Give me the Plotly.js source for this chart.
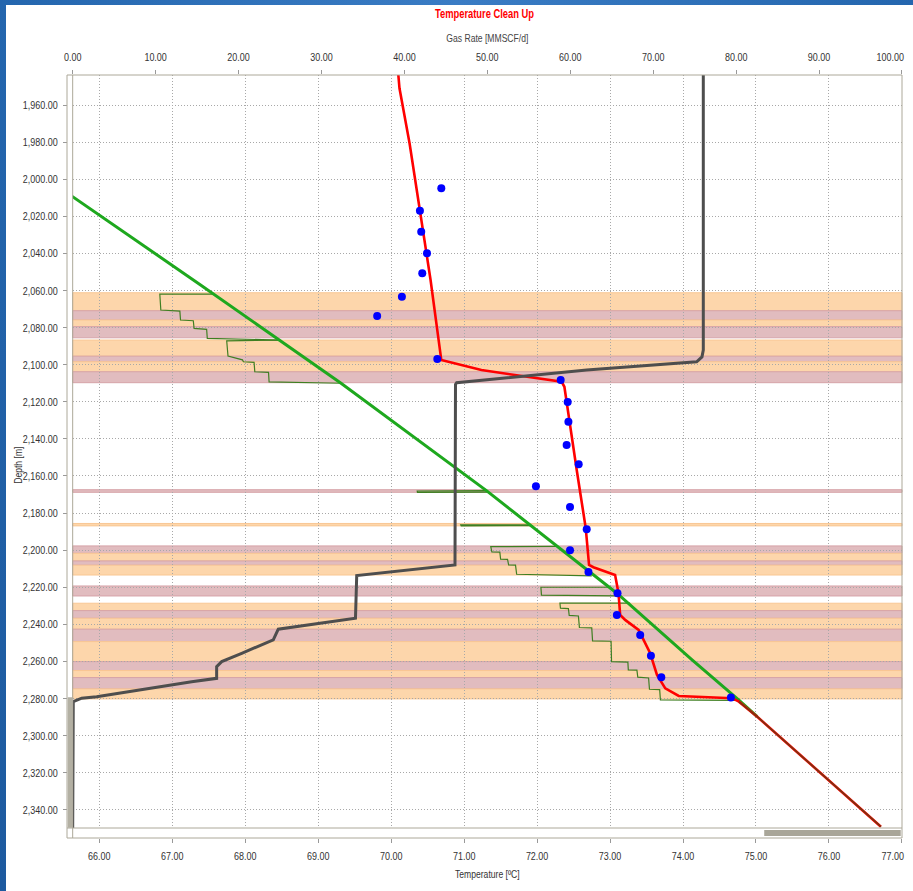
<!DOCTYPE html>
<html>
<head>
<meta charset="utf-8">
<script src="https://cdn.plot.ly/plotly-3.0.1.min.js"></script>
<style>
  html, body { margin:0; padding:0; background:#ffffff; overflow:hidden; }
  #leftbar { position:absolute; left:0; top:0; width:6px; height:891px; background:linear-gradient(#2466ae,#1d5a9f); }
  #topbar { position:absolute; left:0; top:0; width:913px; height:5px; background:linear-gradient(90deg,#2466ae,#3a7cc4,#2466ae); }
  #chart { position:absolute; left:0; top:0; width:913px; height:891px; }
</style>
</head>
<body>
<div id="leftbar"></div>
<div id="topbar"></div>
<div id="chart"></div>
<script>
// ---- Data ----
// Formation bands: top depth, bottom depth, kind (O = orange zone, P = pink zone)
var bandTop    = [2061.2, 2070.9, 2075.9, 2079.5, 2086.7, 2095.4, 2098.4, 2103.8, 2167.4, 2185.6, 2197.7, 2201.7, 2205.8, 2208.1, 2219.3, 2228.6, 2232.6, 2236.7, 2242.6, 2249.3, 2260.1, 2264.9, 2268.7, 2274.8];
var bandBottom = [2070.9, 2075.9, 2079.5, 2085.5, 2095.4, 2098.4, 2103.8, 2109.7, 2168.8, 2186.9, 2201.7, 2205.8, 2208.1, 2213.4, 2224.7, 2232.6, 2236.7, 2242.6, 2249.3, 2260.1, 2264.9, 2268.7, 2274.8, 2280.2];
var bandKind   = ['O','P','O','P','O','P','O','P','P','O','P','O','P','O','P','O','P','O','P','O','P','O','P','O'];

// Geothermal gradient (green)
var geoT = [65.60, 67.388, 69.313, 71.306, 73.093, 74.124, 74.766, 75.017];
var geoD = [2008.5, 2057.0, 2110.0, 2167.9, 2223.2, 2259.2, 2280.8, 2289.8];

// Step (contribution) outlines per zone (dark green); null separates zones
var stepT = [67.549, 66.829, 66.843, 67.104, 67.113, 67.288, 67.299, 67.471, 67.480, 68.465, null,
             68.465, 67.746, 67.764, 67.962, 67.975, 68.121, 68.131, 68.319, 68.327, 69.313, null,
             71.306, 70.357, 70.360, 71.330, null,
             71.920, 70.953, 70.960, 71.940, null,
             72.291, 71.365, 71.380, 71.489, 71.500, 71.595, 71.610, 71.704, 71.720, 72.750, null,
             72.980, 72.052, 72.060, 73.100, null,
             73.275, 72.313, 72.320, 72.429, 72.440, 72.566, 72.580, 72.749, 72.760, 73.014, 73.020, 73.244, 73.250, 73.368, 73.380, 73.528, 73.540, 73.680, 73.690, 74.720];
var stepD = [2061.9, 2061.9, 2070.5, 2071.1, 2075.9, 2076.3, 2080.4, 2080.9, 2085.8, 2086.7, null,
             2086.7, 2087.2, 2095.3, 2097.4, 2098.4, 2098.7, 2103.8, 2104.1, 2109.3, 2110.0, null,
             2167.9, 2168.1, 2168.8, 2168.7, null,
             2186.4, 2186.3, 2186.9, 2186.8, null,
             2197.9, 2198.1, 2201.0, 2201.1, 2204.9, 2205.0, 2208.0, 2208.1, 2213.0, 2213.9, null,
             2220.0, 2220.0, 2224.2, 2224.6, null,
             2228.6, 2228.6, 2231.3, 2231.5, 2235.2, 2235.5, 2241.7, 2241.9, 2248.9, 2249.1, 2260.1, 2260.4, 2264.5, 2264.7, 2268.5, 2268.9, 2275.0, 2275.2, 2280.7, 2281.0];

// Simulated temperature (red)
var simT = [70.09, 70.114, 70.252, 70.540, 70.687, 71.237, 72.337, 72.374, 72.543, 72.667, 72.712, 72.772, 73.069, 73.116, 73.138, 73.207, 73.391, 73.460, 73.550, 73.643, 73.757, 73.941, 74.444, 74.674, 74.766, 75.017, 76.712];
var simD = [1940.0, 1951.0, 1980.6, 2054.3, 2097.5, 2102.9, 2109.2, 2111.9, 2156.8, 2188.2, 2208.0, 2209.2, 2213.4, 2223.2, 2234.9, 2237.6, 2243.0, 2248.4, 2255.6, 2267.3, 2274.5, 2278.6, 2279.3, 2279.8, 2281.7, 2289.8, 2349.1];

// Below-perforation common trend (brown overlay)
var deepT = [74.766, 75.017, 76.712];
var deepD = [2281.7, 2289.8, 2349.1];

// Measured temperature (blue points)
var measT = [70.687, 70.394, 70.412, 70.491, 70.426, 70.147, 69.808, 70.632, 72.323, 72.419, 72.429, 72.405, 72.570, 71.984, 72.451, 72.680, 72.451, 72.704, 73.102, 73.093, 73.413, 73.560, 73.702, 74.656];
var measD = [2004.9, 2017.0, 2028.3, 2039.9, 2050.7, 2063.3, 2073.7, 2096.9, 2108.2, 2120.1, 2130.7, 2143.3, 2153.7, 2165.6, 2176.7, 2188.7, 2200.1, 2211.8, 2223.2, 2234.9, 2245.7, 2256.9, 2268.5, 2279.5];

// Gas rate profile (gray, top axis)
var gasRate = [76.04, 76.04, 75.88, 75.24, 61.98, 46.30, 46.16, 46.10, 34.25, 34.10, 24.79, 24.19, 20.38, 17.97, 17.36, 17.36, 14.35, 2.89, 1.09, 0.07, 0.0];
var gasD    = [1940.0, 2092.1, 2095.8, 2098.4, 2102.9, 2109.7, 2110.6, 2208.0, 2213.7, 2236.7, 2242.6, 2248.4, 2255.6, 2260.1, 2262.8, 2269.1, 2270.9, 2279.0, 2279.8, 2281.7, 2352.0];

// Axes
var tempRange = [65.635, 77.001];
var depthRange = [2349.8, 1943.8];
var gasRange = [0, 100];

// ---- Chart ----
var FONT = '"Liberation Sans", Arial, sans-serif';
var frameColor = '#aca899';

var shapes = [];
bandTop.forEach(function (t, i) {
  var isO = bandKind[i] === 'O';
  shapes.push({
    type: 'rect', layer: 'below', xref: 'x domain', yref: 'y',
    x0: 0, x1: 1, y0: t, y1: bandBottom[i],
    fillcolor: isO ? '#fdd6ab' : '#e1bcbf',
    line: { color: isO ? '#f9c794' : '#d6a3a8', width: 1 }
  });
});
// frame & scroll bars (paper coordinates)
shapes.push({ type: 'rect', xref: 'paper', yref: 'paper', x0: 0, x1: 1, y0: 0, y1: 1, line: { color: frameColor, width: 1 }, layer: 'above' });
shapes.push({ type: 'line', xref: 'paper', yref: 'paper', x0: 0.0068, x1: 0.0068, y0: 0, y1: 1, line: { color: frameColor, width: 1 }, layer: 'above' });
shapes.push({ type: 'line', xref: 'paper', yref: 'paper', x0: 0, x1: 1, y0: 0.0131, y1: 0.0131, line: { color: frameColor, width: 1 }, layer: 'above' });
shapes.push({ type: 'rect', xref: 'paper', yref: 'paper', x0: 0.0008, x1: 0.0062, y0: 0.0135, y1: 0.1844, fillcolor: '#b3b0a3', line: { width: 0 }, layer: 'below' });
shapes.push({ type: 'rect', xref: 'paper', yref: 'paper', x0: 0.835, x1: 0.9985, y0: 0.0026, y1: 0.0105, fillcolor: '#a9a699', line: { width: 0 }, layer: 'above' });

var traces = [
  { x: stepT, y: stepD, mode: 'lines', line: { color: '#3f7f22', width: 1.2 }, hoverinfo: 'skip', connectgaps: false },
  { x: geoT, y: geoD, mode: 'lines', line: { color: '#1ea81e', width: 3 } },
  { x: simT, y: simD, mode: 'lines', line: { color: '#ff0000', width: 2.6 } },
  { x: deepT, y: deepD, mode: 'lines', line: { color: '#7a3410', width: 1.6 } },
  { x: gasRate, y: gasD, xaxis: 'x2', yaxis: 'y', mode: 'lines', line: { color: '#4e4e4e', width: 3 } },
  { x: measT, y: measD, mode: 'markers', marker: { color: '#0000ff', size: 8, line: { width: 0 } } }
];

var tickFont = { family: FONT, size: 11.5, color: '#333333' };
var gridDash = '1px,2px';
var layout = {
  width: 913, height: 891,
  margin: { l: 67, r: 11, t: 75, b: 53 },
  paper_bgcolor: 'rgba(0,0,0,0)',
  plot_bgcolor: '#ffffff',
  showlegend: false,
  title: { text: 'Temperature Clean Up', font: { family: FONT, size: 12, color: '#ff0000', weight: 'bold' },
           x: 0.5, xref: 'paper', xanchor: 'center', y: 1 - 14 / 891, yref: 'container', yanchor: 'middle' },
  xaxis: {
    domain: [0.0068, 1], anchor: 'free', position: 0,
    range: tempRange, dtick: 1, tick0: 66, tickformat: '.2f',
    showgrid: true, gridcolor: '#a8a8a8', griddash: gridDash, gridwidth: 1, zeroline: false,
    showline: false, ticks: 'outside', ticklen: 4, tickcolor: '#999', ticklabelstandoff: 3,
    ticklabeloverflow: 'allow', tickfont: tickFont,
    title: { text: 'Temperature [ºC]', font: { family: FONT, size: 11, color: '#333' }, standoff: 9 }
  },
  xaxis2: {
    overlaying: 'x', side: 'top', anchor: 'y',
    range: gasRange, dtick: 10, tick0: 0, tickformat: '.2f',
    showgrid: false, zeroline: false, showline: false,
    ticks: 'outside', ticklen: 4, tickcolor: '#999', ticklabelstandoff: 4,
    ticklabeloverflow: 'allow', tickfont: tickFont,
    title: { text: 'Gas Rate [MMSCF/d]', font: { family: FONT, size: 11, color: '#444' }, standoff: 6 }
  },
  yaxis: {
    domain: [0.0131, 1], anchor: 'free', position: 0,
    range: depthRange, dtick: 20, tick0: 1960, tickformat: ',.2f',
    showgrid: true, gridcolor: '#a8a8a8', griddash: gridDash, gridwidth: 1, zeroline: false,
    showline: false, ticks: 'outside', ticklen: 4, tickcolor: '#999', ticklabelstandoff: 3,
    tickfont: tickFont
  },
  annotations: [{
    text: 'Depth [m]', textangle: -90, xref: 'paper', yref: 'paper',
    x: -49 / 835, y: (838 - 465) / 763, xanchor: 'center', yanchor: 'middle', showarrow: false,
    font: { family: FONT, size: 11, color: '#333' }
  }],
  shapes: shapes
};

Plotly.newPlot('chart', traces, layout, { displayModeBar: false, staticPlot: true }).then(function (gd) {
  // Narrow the text to mimic the condensed face used in the original
  var texts = gd.querySelectorAll('.main-svg text');
  texts.forEach(function (t) {
    try {
      var len = t.getComputedTextLength();
      if (len > 0) {
        t.setAttribute('textLength', (len * 0.78).toFixed(2));
        t.setAttribute('lengthAdjust', 'spacingAndGlyphs');
      }
    } catch (e) {}
  });
  // keep edge labels inside the window: right-align them at the plot's right edge
  texts.forEach(function (t) {
    var r = t.getBoundingClientRect();
    if (r.width > 0 && r.right > 903) {
      t.setAttribute('text-anchor', 'end');
      t.removeAttribute('dx');
      var r2 = t.getBoundingClientRect();
      t.setAttribute('dx', (904 - r2.right).toFixed(1));
    }
  });
});
</script>
</body>
</html>
